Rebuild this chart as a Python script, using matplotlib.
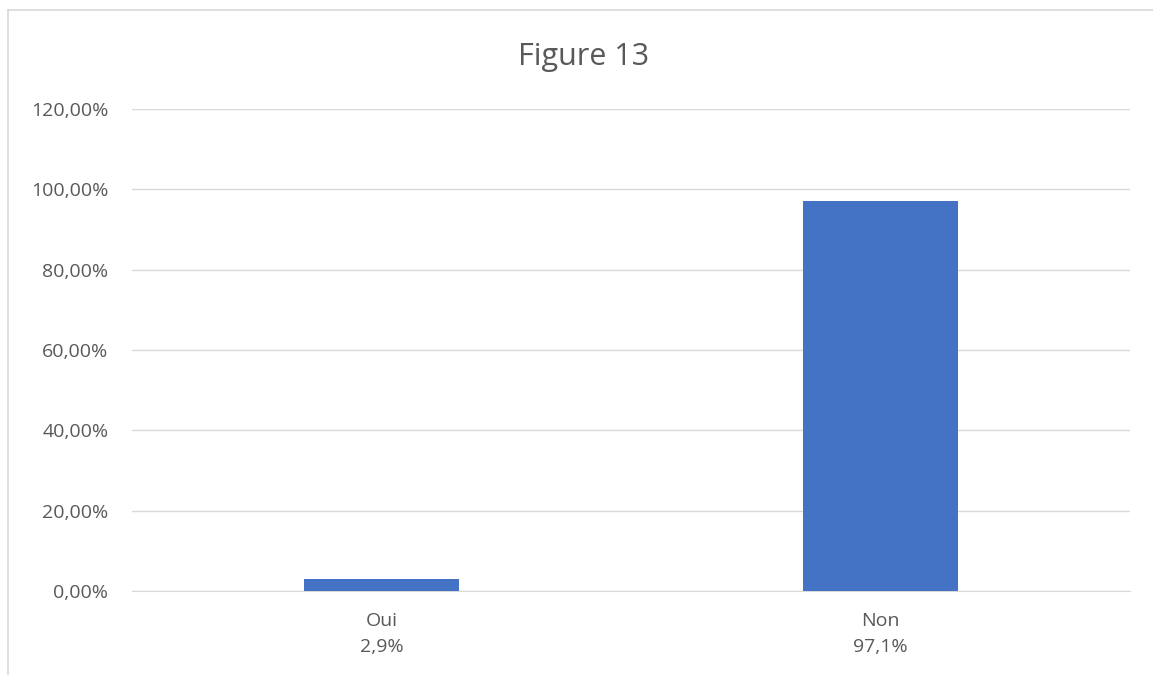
import matplotlib.pyplot as plt
from matplotlib.lines import Line2D
from matplotlib.ticker import FuncFormatter

# Data
categories = ['Oui', 'Non']
shares = [2.9, 97.1]
share_labels = ['2,9%', '97,1%']
y_ticks = [0, 20, 40, 60, 80, 100, 120]

plt.rcParams['font.family'] = ['Open Sans', 'DejaVu Sans']
text_col = '#595959'
grid_col = '#d9d9d9'

fig = plt.figure(figsize=(11.53, 6.75), dpi=100)
ax = fig.add_axes([132 / 1153, 1 - 591 / 675, 998 / 1153, 482 / 675])

x = list(range(len(categories)))
ax.bar(x, shares, width=0.3125, color='#4472C4', zorder=3)

ax.set_xlim(-0.5, len(categories) - 0.5)
ax.set_ylim(0, 120)
ax.set_yticks(y_ticks)
ax.yaxis.set_major_formatter(FuncFormatter(lambda v, p: ('%.2f%%' % v).replace('.', ',')))
ax.set_xticks(x)
ax.set_xticklabels([c + '\n' + s for c, s in zip(categories, share_labels)], linespacing=1.6)

ax.grid(axis='y', color=grid_col, linewidth=1, zorder=0)
for side in ['top', 'right', 'left']:
    ax.spines[side].set_visible(False)
ax.spines['bottom'].set_color(grid_col)
ax.tick_params(axis='both', length=0, colors=text_col, labelsize=14)
ax.tick_params(axis='y', pad=17)
ax.tick_params(axis='x', pad=15)

fig.text(584 / 1153, 1 - 57 / 675, 'Figure 13', ha='center', va='center', fontsize=22, color=text_col)

# chart frame (only top and left edges visible)
fig.add_artist(Line2D([8 / 1153, 1], [1 - 10 / 675, 1 - 10 / 675], color=grid_col, lw=1.2, transform=fig.transFigure))
fig.add_artist(Line2D([8 / 1153, 8 / 1153], [0, 1 - 10 / 675], color=grid_col, lw=1.2, transform=fig.transFigure))

fig.savefig('out.png', dpi=100)
